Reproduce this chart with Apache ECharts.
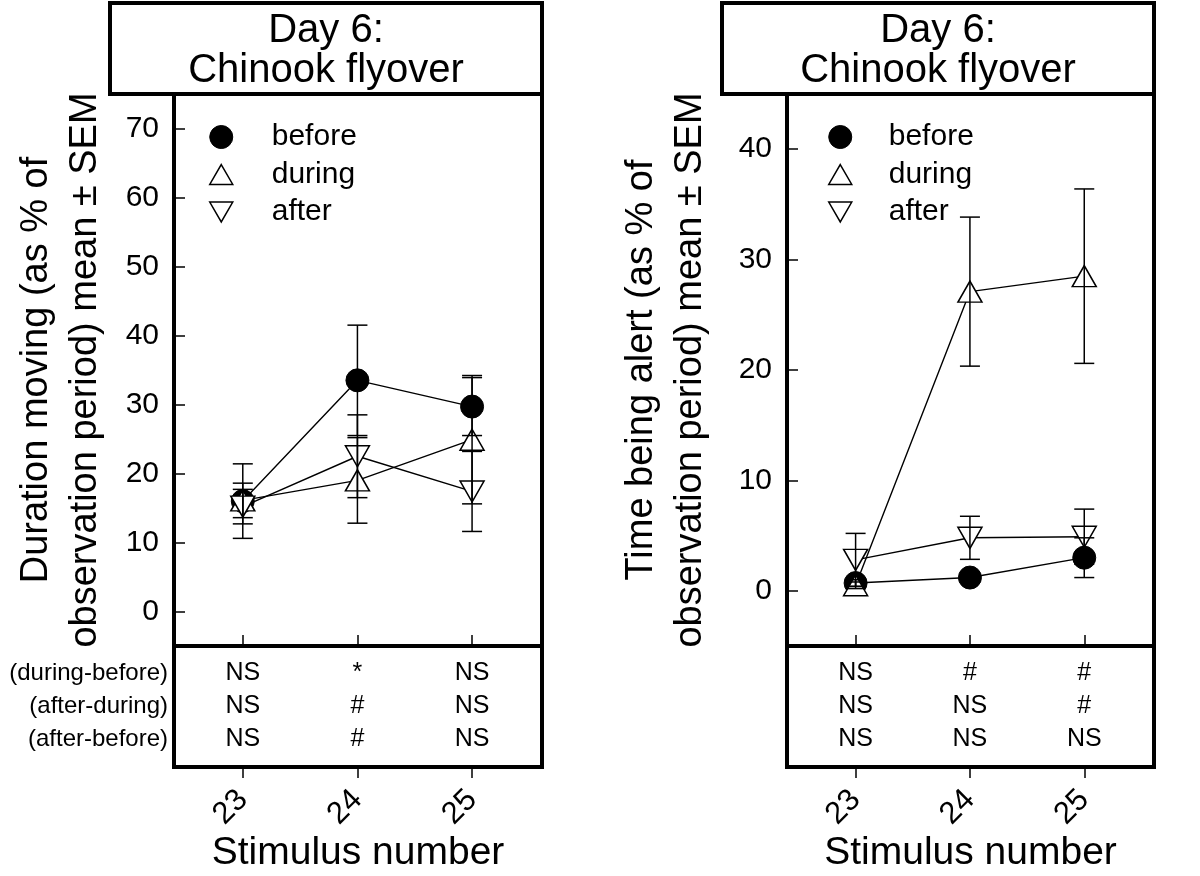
<!DOCTYPE html>
<html>
<head>
<meta charset="utf-8">
<script src="https://cdn.jsdelivr.net/npm/echarts@6/dist/echarts.min.js"></script>
<style>
  html, body { margin: 0; padding: 0; background: #fff; }
  #main { width: 1200px; height: 876px; }
</style>
</head>
<body>
<div id="main"></div>
<script>
var stimulus = [23, 24, 25];

// duration moving (left panel)
var moveBefore = [16.0, 33.5, 29.7];
var moveBeforeErr = [5.4, 8.0, 4.2];
var moveDuring = [16.1, 19.0, 24.9];
var moveDuringErr = [2.5, 6.2, 9.3];
var moveAfter = [15.2, 22.5, 17.4];
var moveAfterErr = [2.5, 6.0, 5.8];

// time being alert (right panel)
var alertBefore = [0.7, 1.2, 3.0];
var alertBeforeErr = [0.3, 0.2, 1.8];
var alertDuring = [0.5, 27.1, 28.5];
var alertDuringErr = [0.3, 6.75, 7.9];
var alertAfter = [2.8, 4.8, 4.9];
var alertAfterErr = [2.4, 1.95, 2.5];

var moveTicks = [0, 10, 20, 30, 40, 50, 60, 70];
var alertTicks = [0, 10, 20, 30, 40];

var rowLabels = ["(during-before)", "(after-during)", "(after-before)"];
var moveStats = [["NS", "*", "NS"], ["NS", "#", "NS"], ["NS", "#", "NS"]];
var alertStats = [["NS", "#", "#"], ["NS", "NS", "#"], ["NS", "NS", "NS"]];

var FONT = '"Liberation Sans", Arial, Helvetica, sans-serif';
var UP = "path://M10,0 L20,17.32 L0,17.32 Z";
var DOWN = "path://M0,0 L20,0 L10,17.32 Z";

window.onload = function () {
  var myChart = echarts.init(document.getElementById("main"));

  function pts(ys) {
    return stimulus.map(function (x, i) { return [x, ys[i]]; });
  }
  function bars(ys, es) {
    return stimulus.map(function (x, i) { return [x, ys[i] - es[i], ys[i] + es[i]]; });
  }
  function statPts(tbl) {
    var out = [];
    tbl.forEach(function (row, r) {
      row.forEach(function (t, c) {
        out.push({ name: t, value: [stimulus[c], r + 1] });
      });
    });
    return out;
  }

  function errRender(params, api) {
    var x = api.value(0);
    var lo = api.coord([x, api.value(1)]);
    var hi = api.coord([x, api.value(2)]);
    var w = 10;
    var st = { stroke: "#000", lineWidth: 1.5 };
    return {
      type: "group",
      children: [
        { type: "line", shape: { x1: hi[0], y1: hi[1], x2: lo[0], y2: lo[1] }, style: st },
        { type: "line", shape: { x1: hi[0] - w, y1: hi[1], x2: hi[0] + w, y2: hi[1] }, style: st },
        { type: "line", shape: { x1: lo[0] - w, y1: lo[1], x2: lo[0] + w, y2: lo[1] }, style: st }
      ]
    };
  }

  var styles = {
    before: { symbol: "circle", size: 23, item: { color: "#000", borderColor: "#000", borderWidth: 1 } },
    during: { symbol: UP, size: [24, 21], item: { color: "#fff", borderColor: "#000", borderWidth: 1.5 } },
    after: { symbol: DOWN, size: [24, 21], item: { color: "#fff", borderColor: "#000", borderWidth: 1.5 } }
  };

  function lineSeries(name, ys, idx) {
    var s = styles[name];
    return {
      name: name,
      type: "line",
      xAxisIndex: idx,
      yAxisIndex: idx,
      data: pts(ys),
      symbol: s.symbol,
      symbolSize: s.size,
      showAllSymbol: true,
      itemStyle: s.item,
      lineStyle: { color: "#000", width: 1.4 },
      z: 2
    };
  }
  function errSeries(ys, es, idx) {
    return {
      type: "custom",
      xAxisIndex: idx,
      yAxisIndex: idx,
      renderItem: errRender,
      encode: { x: 0, y: [1, 2] },
      data: bars(ys, es),
      z: 3,
      silent: true
    };
  }
  function statSeries(tbl, idx) {
    return {
      type: "scatter",
      xAxisIndex: idx,
      yAxisIndex: idx,
      symbolSize: 1,
      itemStyle: { color: "rgba(0,0,0,0)", opacity: 1 },
      label: {
        show: true, position: "inside", formatter: "{b}", color: "#000", opacity: 1,
        textBorderWidth: 0, fontSize: 25, fontFamily: FONT
      },
      data: statPts(tbl),
      silent: true
    };
  }

  var xMin = 22.4, xMax = 25.61;
  function mainX(idx) {
    return {
      type: "value", gridIndex: idx, min: xMin, max: xMax, position: "bottom",
      axisLine: { show: false, onZero: false },
      splitLine: { show: false },
      axisTick: { show: true, inside: true, length: 11, customValues: stimulus, lineStyle: { color: "#000", width: 1.5 } },
      axisLabel: { show: false }
    };
  }
  function statX(idx) {
    return {
      type: "value", gridIndex: idx, min: xMin, max: xMax, position: "bottom",
      axisLine: { show: false, onZero: false },
      splitLine: { show: false },
      axisTick: { show: true, inside: false, length: 11, customValues: stimulus, lineStyle: { color: "#000", width: 1.5 } },
      axisLabel: { show: true, customValues: stimulus, rotate: 45, margin: 28, fontSize: 31, color: "#000", fontFamily: FONT },
      name: "Stimulus number",
      nameLocation: "middle",
      nameGap: 67,
      nameTextStyle: { fontSize: 39, color: "#000", fontFamily: FONT }
    };
  }
  function mainY(idx, min, max, ticks, name, gap) {
    return {
      type: "value", gridIndex: idx, min: min, max: max,
      axisLine: { show: false, onZero: false },
      splitLine: { show: false },
      axisTick: { show: true, inside: true, length: 11, customValues: ticks, lineStyle: { color: "#000", width: 1.5 } },
      axisLabel: { show: true, customValues: ticks, margin: 15, fontSize: 30, color: "#000", fontFamily: FONT },
      name: name,
      nameLocation: "middle",
      nameRotate: 90,
      nameGap: gap,
      nameTextStyle: { fontSize: 38, lineHeight: 49, color: "#000", fontFamily: FONT }
    };
  }
  function statY(idx, labels) {
    return {
      type: "value", gridIndex: idx, min: 0.18, max: 3.85, inverse: true,
      axisLine: { show: false, onZero: false },
      splitLine: { show: false },
      axisTick: { show: false },
      axisLabel: {
        show: !!labels, customValues: [1, 2, 3], margin: 6, fontSize: 24, color: "#000", fontFamily: FONT,
        formatter: function (v) { return labels ? labels[Math.round(v) - 1] : ""; }
      }
    };
  }

  function legend(left, pad) {
    return {
      orient: "vertical", left: left, top: 117,
      itemWidth: 23, itemHeight: 23, itemGap: 7.5,
      selectedMode: false,
      textStyle: { fontSize: 30, color: "#000", fontFamily: FONT, padding: [0, 0, 0, pad] },
      data: [
        { name: "before", icon: "circle", itemStyle: styles.before.item },
        { name: "during", icon: UP, itemStyle: styles.during.item },
        { name: "after", icon: DOWN, itemStyle: styles.after.item }
      ]
    };
  }

  function titleBox(x) {
    return {
      type: "group",
      children: [
        { type: "rect", shape: { x: x, y: 3, width: 432, height: 91 }, style: { fill: "#fff", stroke: "#000", lineWidth: 4 } },
        {
          type: "text", x: x + 216, y: 51,
          style: { text: "Day 6:\nChinook flyover", textAlign: "center", textVerticalAlign: "middle", font: "40px " + FONT, lineHeight: 40, fill: "#000" }
        }
      ]
    };
  }

  var gridStyle = { show: true, borderColor: "#000", borderWidth: 4, backgroundColor: "rgba(0,0,0,0)" };

  var option = {
    animation: false,
    backgroundColor: "#fff",
    textStyle: { fontFamily: FONT },
    grid: [
      Object.assign({ left: 174, top: 94, width: 368, height: 552 }, gridStyle),
      Object.assign({ left: 787, top: 94, width: 367, height: 552 }, gridStyle),
      Object.assign({ left: 174, top: 646, width: 368, height: 121 }, gridStyle),
      Object.assign({ left: 787, top: 646, width: 367, height: 121 }, gridStyle)
    ],
    xAxis: [mainX(0), mainX(1), statX(2), statX(3)],
    yAxis: [
      mainY(0, -5, 75, moveTicks, "Duration moving (as % of\nobservation period) mean \u00b1 SEM", 64),
      mainY(1, -5, 45, alertTicks, "Time being alert (as % of\nobservation period) mean \u00b1 SEM", 72),
      statY(2, rowLabels),
      statY(3, null)
    ],
    legend: [legend(204, 34), legend(823, 32)],
    graphic: [titleBox(110), titleBox(722)],
    series: [
      lineSeries("before", moveBefore, 0),
      lineSeries("during", moveDuring, 0),
      lineSeries("after", moveAfter, 0),
      errSeries(moveBefore, moveBeforeErr, 0),
      errSeries(moveDuring, moveDuringErr, 0),
      errSeries(moveAfter, moveAfterErr, 0),
      lineSeries("before", alertBefore, 1),
      lineSeries("during", alertDuring, 1),
      lineSeries("after", alertAfter, 1),
      errSeries(alertBefore, alertBeforeErr, 1),
      errSeries(alertDuring, alertDuringErr, 1),
      errSeries(alertAfter, alertAfterErr, 1),
      statSeries(moveStats, 2),
      statSeries(alertStats, 3)
    ]
  };

  option && myChart.setOption(option);
};
</script>
</body>
</html>
